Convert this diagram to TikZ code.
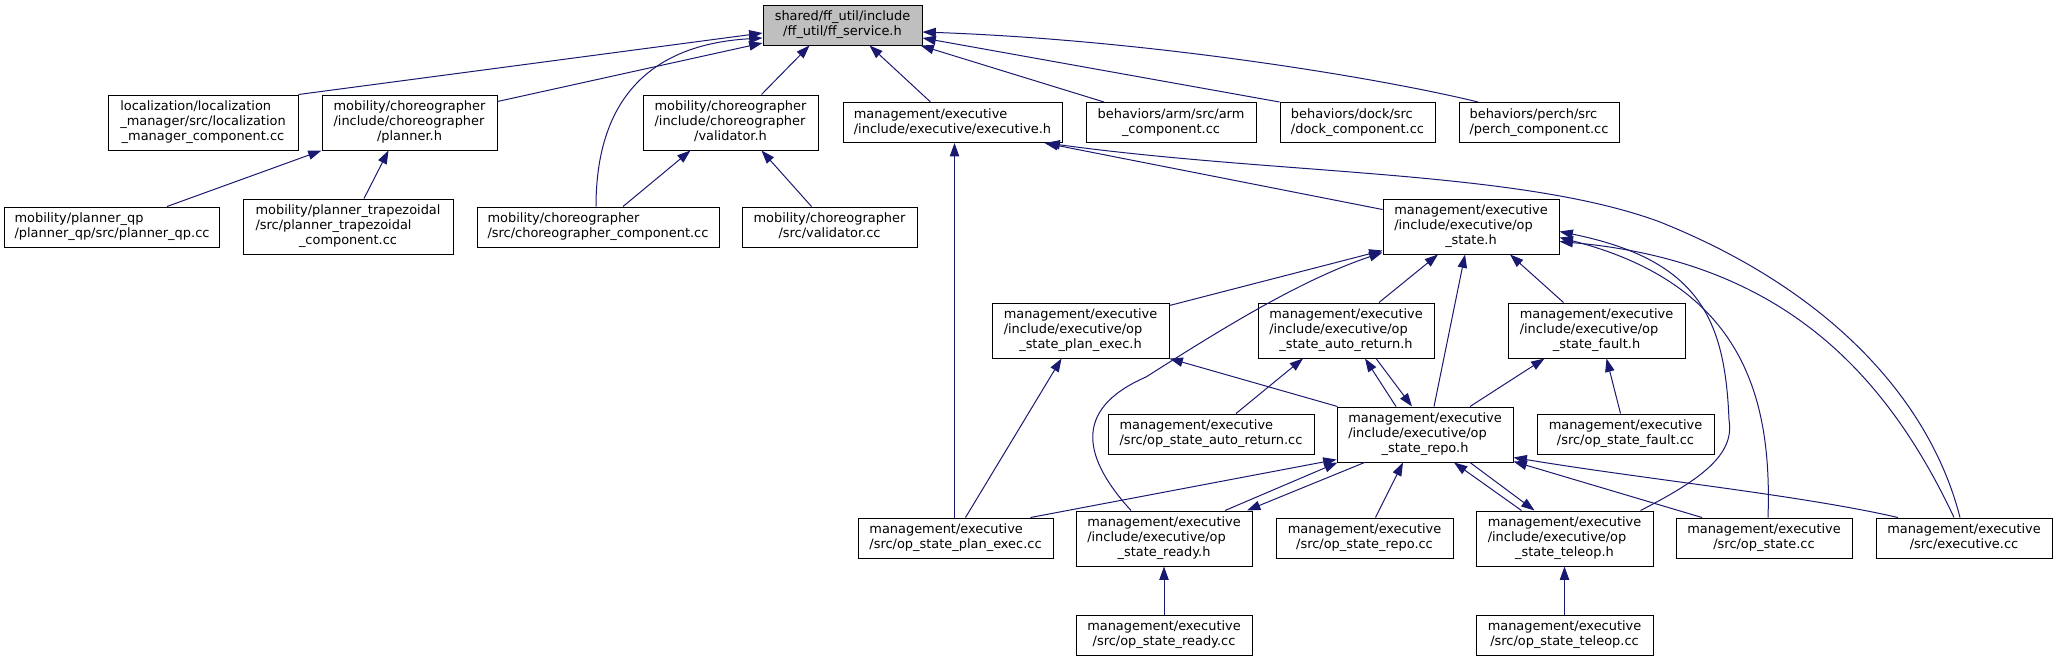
\documentclass[tikz,border=0pt]{standalone}
\usepackage{fontspec}
\setmainfont{DejaVu Sans}
\usetikzlibrary{arrows.meta}
\definecolor{edgeblue}{HTML}{191970}
\definecolor{rootgray}{HTML}{BFBFBF}
% label: left aligned lines, last line centred
\newcommand{\flbl}[2]{\begin{tabular}{@{}l@{}}#1\\\multicolumn{1}{@{}c@{}}{#2}\end{tabular}}
\begin{document}
\begin{tikzpicture}[x=0.75pt, y=-0.75pt,
    file/.style={draw=black, line width=0.75pt, fill=white, inner sep=0pt,
      minimum height=30pt, font=\fontsize{9.7pt}{11.25pt}\selectfont},
    file3/.style={file, minimum height=41.25pt},
    wd/.style={minimum width=#1*0.75pt},
    dep/.style={draw=edgeblue, line width=0.75pt, -{Triangle[length=10pt, width=7pt]}}]
        \useasboundingbox (0,0) rectangle (2058,661);

        % Korzen
        \node[file, wd=159, fill=rootgray] (ffsrv) at (842.5,25) {\flbl{shared/ff\_util/include}{/ff\_util/ff\_service.h}};

        % Poziom 1
        \node[file3, wd=190] (locmgr) at (203,122.5) {\flbl{localization/localization\\\_manager/src/localization}{\_manager\_component.cc}};
        \node[file3, wd=175] (planh) at (409.5,122.5) {\flbl{mobility/choreographer\\/include/choreographer}{/planner.h}};
        \node[file3, wd=175] (validh) at (730.5,122.5) {\flbl{mobility/choreographer\\/include/choreographer}{/validator.h}};
        \node[file, wd=219] (exech) at (952.5,122.5) {\flbl{management/executive}{/include/executive/executive.h}};
        \node[file, wd=170] (armcc) at (1171,122.5) {\flbl{behaviors/arm/src/arm}{\_component.cc}};
        \node[file, wd=155] (dockcc) at (1357.5,122.5) {\flbl{behaviors/dock/src}{/dock\_component.cc}};
        \node[file, wd=160] (perchcc) at (1539,122.5) {\flbl{behaviors/perch/src}{/perch\_component.cc}};

        % Poziom 2
        \node[file, wd=215] (qpcc) at (112,227) {\flbl{mobility/planner\_qp}{/planner\_qp/src/planner\_qp.cc}};
        \node[file3, wd=210] (trapcc) at (348,226.5) {\flbl{mobility/planner\_trapezoidal\\/src/planner\_trapezoidal}{\_component.cc}};
        \node[file, wd=242] (chorcc) at (598,227) {\flbl{mobility/choreographer}{/src/choreographer\_component.cc}};
        \node[file, wd=175] (validcc) at (829.5,227) {\flbl{mobility/choreographer}{/src/validator.cc}};
        \node[file3, wd=176] (opsth) at (1471,226.5) {\flbl{management/executive\\/include/executive/op}{\_state.h}};

        % Poziom 3
        \node[file3, wd=177] (plxh) at (1080.5,330.5) {\flbl{management/executive\\/include/executive/op}{\_state\_plan\_exec.h}};
        \node[file3, wd=176] (autoh) at (1346,330.5) {\flbl{management/executive\\/include/executive/op}{\_state\_auto\_return.h}};
        \node[file3, wd=177] (faulth) at (1596.5,330.5) {\flbl{management/executive\\/include/executive/op}{\_state\_fault.h}};

        % Poziom 4
        \node[file, wd=206] (autocc) at (1211,434) {\flbl{management/executive}{/src/op\_state\_auto\_return.cc}};
        \node[file3, wd=176] (repoh) at (1425,434.5) {\flbl{management/executive\\/include/executive/op}{\_state\_repo.h}};
        \node[file, wd=177] (faultcc) at (1625.5,434) {\flbl{management/executive}{/src/op\_state\_fault.cc}};

        % Poziom 5
        \node[file, wd=195] (plxcc) at (955.5,538) {\flbl{management/executive}{/src/op\_state\_plan\_exec.cc}};
        \node[file3, wd=176] (readyh) at (1164,538.5) {\flbl{management/executive\\/include/executive/op}{\_state\_ready.h}};
        \node[file, wd=177] (repocc) at (1364.5,538) {\flbl{management/executive}{/src/op\_state\_repo.cc}};
        \node[file3, wd=177] (teleh) at (1564.5,538.5) {\flbl{management/executive\\/include/executive/op}{\_state\_teleop.h}};
        \node[file, wd=176] (opstcc) at (1764,538) {\flbl{management/executive}{/src/op\_state.cc}};
        \node[file, wd=176] (execcc) at (1964,538) {\flbl{management/executive}{/src/executive.cc}};

        % Poziom 6
        \node[file, wd=176] (readycc) at (1164,635) {\flbl{management/executive}{/src/op\_state\_ready.cc}};
        \node[file, wd=177] (telecc) at (1564.5,635) {\flbl{management/executive}{/src/op\_state\_teleop.cc}};

        % Zaleznosci do ff_service.h
        \draw[dep] (locmgr.north east) -- ([shift={(0,8)}]ffsrv.west);
        \draw[dep] ([shift={(0,7)}]planh.north east) -- ([shift={(0,18)}]ffsrv.west);
        \draw[dep] ([shift={(-2,0)}]chorcc.north) .. controls (596,110) and (640,45) .. ([shift={(0,13)}]ffsrv.west);
        \draw[dep] ([shift={(31,0)}]validh.north) -- ([shift={(-33,0)}]ffsrv.south);
        \draw[dep] ([shift={(-22,0)}]exech.north) -- ([shift={(27,0)}]ffsrv.south);
        \draw[dep] ([shift={(-67,0)}]armcc.north) -- ([shift={(-2,0)}]ffsrv.south east);
        \draw[dep] (dockcc.north west) -- ([shift={(0,13)}]ffsrv.east);
        \draw[dep] ([shift={(-61,0)}]perchcc.north) .. controls (1380,78) and (1150,40) .. ([shift={(0,7)}]ffsrv.east);

        % Planner i validator
        \draw[dep] ([shift={(55,0)}]qpcc.north) -- (planh.south west);
        \draw[dep] ([shift={(16,0)}]trapcc.north) -- ([shift={(-21,0)}]planh.south);
        \draw[dep] ([shift={(25,0)}]chorcc.north) -- ([shift={(-40,0)}]validh.south);
        \draw[dep] ([shift={(-18,0)}]validcc.north) -- ([shift={(31,0)}]validh.south);

        % executive.h
        \draw[dep] ([shift={(-1,0)}]plxcc.north) -- ([shift={(2,0)}]exech.south);
        \draw[dep] ([shift={(0,11)}]opsth.north west) -- ([shift={(-18,0)}]exech.south east);
        \draw[dep] ([shift={(-4,0)}]execcc.north) .. controls (1930,400) and (1830,290) .. (1660,222)
            .. controls (1520,170) and (1280,175) .. ([shift={(-16,0)}]exech.south east);

        % op_state.h
        \draw[dep] ([shift={(0,3)}]plxh.north east) -- ([shift={(0,-4)}]opsth.south west);
        \draw[dep] ([shift={(-33,0)}]readyh.north) .. controls (1085,460) and (1070,410) .. (1146,377)
            .. controls (1220,330) and (1300,280) .. ([shift={(0,-2)}]opsth.south west);
        \draw[dep] ([shift={(33,0)}]autoh.north) -- ([shift={(-33,0)}]opsth.south);
        \draw[dep] ([shift={(9,0)}]repoh.north) -- ([shift={(-6,0)}]opsth.south);
        \draw[dep] ([shift={(-33,0)}]faulth.north) -- ([shift={(39,0)}]opsth.south);
        \draw[dep] ([shift={(76,0)}]teleh.north) .. controls (1700,480) and (1735,455) .. (1729,420)
            .. controls (1725,320) and (1700,260) .. ([shift={(0,5)}]opsth.east);
        \draw[dep] ([shift={(4,0)}]opstcc.north) .. controls (1772,400) and (1745,285) .. ([shift={(0,11)}]opsth.east);
        \draw[dep] ([shift={(-10,0)}]execcc.north) .. controls (1880,360) and (1770,260) .. ([shift={(0,15)}]opsth.east);

        % Poziom 3 -> 4
        \draw[dep] ([shift={(10,0)}]plxcc.north) -- ([shift={(-19,0)}]plxh.south);
        \draw[dep] ([shift={(1,0)}]repoh.north west) -- (plxh.south east);
        \draw[dep] ([shift={(-29,0)}]repoh.north) -- ([shift={(19,0)}]autoh.south);
        \draw[dep] ([shift={(30,0)}]autoh.south) -- ([shift={(-13,0)}]repoh.north);
        \draw[dep] ([shift={(25,0)}]autocc.north) -- ([shift={(-43,0)}]autoh.south);
        \draw[dep] ([shift={(45,0)}]repoh.north) -- ([shift={(-52,0)}]faulth.south);
        \draw[dep] ([shift={(-5,0)}]faultcc.north) -- ([shift={(10,0)}]faulth.south);

        % op_state_repo.h
        \draw[dep] ([shift={(-23,0)}]plxcc.north east) -- ([shift={(0,-3)}]repoh.south west);
        \draw[dep] ([shift={(61,0)}]readyh.north) -- ([shift={(1,0)}]repoh.south west);
        \draw[dep] ([shift={(28,0)}]repoh.south west) -- ([shift={(83,0)}]readyh.north);
        \draw[dep] ([shift={(11,0)}]repocc.north) -- ([shift={(-22,0)}]repoh.south);
        \draw[dep] ([shift={(-43,0)}]teleh.north) -- ([shift={(29,0)}]repoh.south);
        \draw[dep] ([shift={(45,0)}]repoh.south) -- ([shift={(-30,0)}]teleh.north);
        \draw[dep] ([shift={(-62,0)}]opstcc.north) -- ([shift={(0,-1)}]repoh.south east);
        \draw[dep] ([shift={(-66,0)}]execcc.north) .. controls (1800,495) and (1650,480) .. ([shift={(0,-5)}]repoh.south east);

        % Pliki .cc na dole
        \draw[dep] (readycc.north) -- (readyh.south);
        \draw[dep] (telecc.north) -- (teleh.south);
\end{tikzpicture}
\end{document}
